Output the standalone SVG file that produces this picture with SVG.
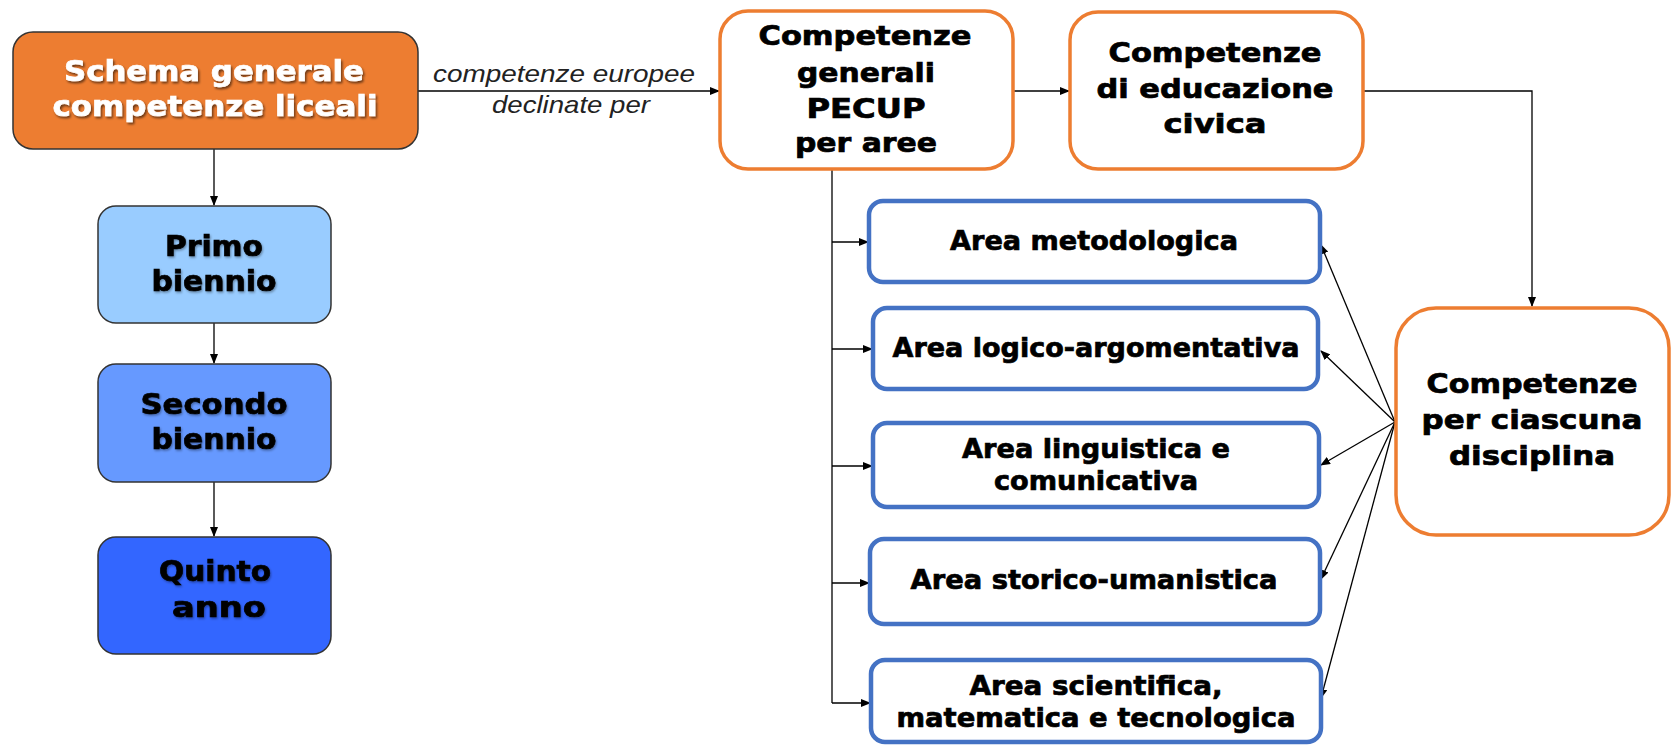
<svg xmlns="http://www.w3.org/2000/svg" width="1671" height="746" viewBox="0 0 1671 746">
<style>
.t{font-family:"DejaVu Sans","Liberation Sans",sans-serif;font-weight:bold;fill:#000;stroke:#000;stroke-width:0.7;text-anchor:middle}
.w{fill:#fff;stroke:#fff}
.lbl{font-family:"Liberation Sans",Arial,sans-serif;font-style:italic;font-size:24px;fill:#222;text-anchor:middle}
.or{fill:#fff;stroke:#ED7D31;stroke-width:3.5}
.bl{fill:#fff;stroke:#4472C4;stroke-width:4.5}
.lv{stroke:#333;stroke-width:1.5}
.c{fill:none;stroke:#000;stroke-width:1.3}
</style>
<defs>
<marker id="ah" markerWidth="10" markerHeight="8" refX="9" refY="4" orient="auto" markerUnits="userSpaceOnUse">
<path d="M0,0 L10,4 L0,8 z" fill="#000"/>
</marker>
<filter id="sh" x="-10%" y="-20%" width="120%" height="150%">
<feDropShadow dx="1.5" dy="2" stdDeviation="1" flood-color="#000" flood-opacity="0.55"/>
</filter>
<filter id="sh2" x="-10%" y="-20%" width="120%" height="150%">
<feDropShadow dx="1" dy="1.5" stdDeviation="1" flood-color="#000" flood-opacity="0.35"/>
</filter>
</defs>

<g id="connectors">
<line class="c" x1="418" y1="91" x2="719" y2="91" marker-end="url(#ah)"/>
<line class="c" x1="214" y1="149" x2="214" y2="205" marker-end="url(#ah)"/>
<line class="c" x1="214" y1="323" x2="214" y2="363" marker-end="url(#ah)"/>
<line class="c" x1="214" y1="482" x2="214" y2="536" marker-end="url(#ah)"/>
<line class="c" x1="1013" y1="91" x2="1069" y2="91" marker-end="url(#ah)"/>
<polyline class="c" points="1363,91 1532,91 1532,306" marker-end="url(#ah)"/>
<line class="c" x1="832" y1="170" x2="832" y2="703"/>
<line class="c" x1="832" y1="242" x2="868" y2="242" marker-end="url(#ah)"/>
<line class="c" x1="832" y1="349" x2="872" y2="349" marker-end="url(#ah)"/>
<line class="c" x1="832" y1="466" x2="872" y2="466" marker-end="url(#ah)"/>
<line class="c" x1="832" y1="583" x2="869" y2="583" marker-end="url(#ah)"/>
<line class="c" x1="832" y1="703" x2="870" y2="703" marker-end="url(#ah)"/>
<line class="c" x1="1395" y1="422" x2="1321" y2="245" marker-end="url(#ah)"/>
<line class="c" x1="1395" y1="422" x2="1321" y2="351" marker-end="url(#ah)"/>
<line class="c" x1="1395" y1="422" x2="1321" y2="465" marker-end="url(#ah)"/>
<line class="c" x1="1395" y1="422" x2="1321" y2="579" marker-end="url(#ah)"/>
<line class="c" x1="1395" y1="422" x2="1321" y2="698" marker-end="url(#ah)"/>
<text class="lbl" x="564" y="82" textLength="262" lengthAdjust="spacingAndGlyphs">competenze europee</text>
<text class="lbl" x="571" y="113" textLength="158" lengthAdjust="spacingAndGlyphs">declinate per</text>
</g>

<g id="schema">
<rect x="13" y="32" width="405" height="117" rx="20" fill="#ED7D31" stroke="#333" stroke-width="1.5"/>
<g filter="url(#sh)">
<text class="t w" x="214" y="81" font-size="29" textLength="300" lengthAdjust="spacingAndGlyphs">Schema generale</text>
<text class="t w" x="215" y="116" font-size="29" textLength="325" lengthAdjust="spacingAndGlyphs">competenze liceali</text>
</g>
</g>

<g id="primo">
<rect x="98" y="206" width="233" height="117" rx="18" fill="#99CCFF" class="lv"/>
<g filter="url(#sh2)">
<text class="t" x="214" y="256" font-size="28" textLength="98" lengthAdjust="spacingAndGlyphs">Primo</text>
<text class="t" x="214" y="291" font-size="28" textLength="125" lengthAdjust="spacingAndGlyphs">biennio</text>
</g>
</g>

<g id="secondo">
<rect x="98" y="364" width="233" height="118" rx="18" fill="#6699FF" class="lv"/>
<g filter="url(#sh2)">
<text class="t" x="214" y="414" font-size="28" textLength="147" lengthAdjust="spacingAndGlyphs">Secondo</text>
<text class="t" x="214" y="449" font-size="28" textLength="125" lengthAdjust="spacingAndGlyphs">biennio</text>
</g>
</g>

<g id="quinto">
<rect x="98" y="537" width="233" height="117" rx="18" fill="#3366FF" class="lv"/>
<g filter="url(#sh2)">
<text class="t" x="215" y="581" font-size="28" textLength="112" lengthAdjust="spacingAndGlyphs">Quinto</text>
<text class="t" x="219" y="617" font-size="28" textLength="94" lengthAdjust="spacingAndGlyphs">anno</text>
</g>
</g>

<g id="generali">
<rect class="or" x="720" y="11" width="293" height="158" rx="28"/>
<text class="t" x="865" y="45" font-size="26" textLength="213" lengthAdjust="spacingAndGlyphs">Competenze</text>
<text class="t" x="866" y="82" font-size="26" textLength="138" lengthAdjust="spacingAndGlyphs">generali</text>
<text class="t" x="866" y="118" font-size="26" textLength="119" lengthAdjust="spacingAndGlyphs">PECUP</text>
<text class="t" x="866" y="152" font-size="26" textLength="142" lengthAdjust="spacingAndGlyphs">per aree</text>
</g>

<g id="civica">
<rect class="or" x="1070" y="12" width="293" height="157" rx="28"/>
<text class="t" x="1215" y="62" font-size="26" textLength="213" lengthAdjust="spacingAndGlyphs">Competenze</text>
<text class="t" x="1215" y="98" font-size="26" textLength="237" lengthAdjust="spacingAndGlyphs">di educazione</text>
<text class="t" x="1215" y="133" font-size="26" textLength="103" lengthAdjust="spacingAndGlyphs">civica</text>
</g>

<g id="metodologica">
<rect class="bl" x="869" y="201" width="451" height="81" rx="14"/>
<text class="t" x="1094" y="250" font-size="27" textLength="288" lengthAdjust="spacingAndGlyphs">Area metodologica</text>
</g>

<g id="logico">
<rect class="bl" x="873" y="308" width="445" height="81" rx="14"/>
<text class="t" x="1096" y="357" font-size="27" textLength="407" lengthAdjust="spacingAndGlyphs">Area logico-argomentativa</text>
</g>

<g id="linguistica">
<rect class="bl" x="873" y="423" width="446" height="84" rx="14"/>
<text class="t" x="1096" y="458" font-size="27" textLength="268" lengthAdjust="spacingAndGlyphs">Area linguistica e</text>
<text class="t" x="1096" y="490" font-size="27" textLength="204" lengthAdjust="spacingAndGlyphs">comunicativa</text>
</g>

<g id="storico">
<rect class="bl" x="870" y="539" width="450" height="85" rx="14"/>
<text class="t" x="1094" y="589" font-size="27" textLength="367" lengthAdjust="spacingAndGlyphs">Area storico-umanistica</text>
</g>

<g id="scientifica">
<rect class="bl" x="871" y="660" width="450" height="82" rx="14"/>
<text class="t" x="1096" y="695" font-size="27" textLength="253" lengthAdjust="spacingAndGlyphs">Area scientifica,</text>
<text class="t" x="1096" y="727" font-size="27" textLength="399" lengthAdjust="spacingAndGlyphs">matematica e tecnologica</text>
</g>

<g id="disciplina">
<rect class="or" x="1396" y="308" width="273" height="227" rx="40"/>
<text class="t" x="1532" y="393" font-size="26" textLength="211" lengthAdjust="spacingAndGlyphs">Competenze</text>
<text class="t" x="1532" y="429" font-size="26" textLength="221" lengthAdjust="spacingAndGlyphs">per ciascuna</text>
<text class="t" x="1532" y="465" font-size="26" textLength="166" lengthAdjust="spacingAndGlyphs">disciplina</text>
</g>
</svg>
